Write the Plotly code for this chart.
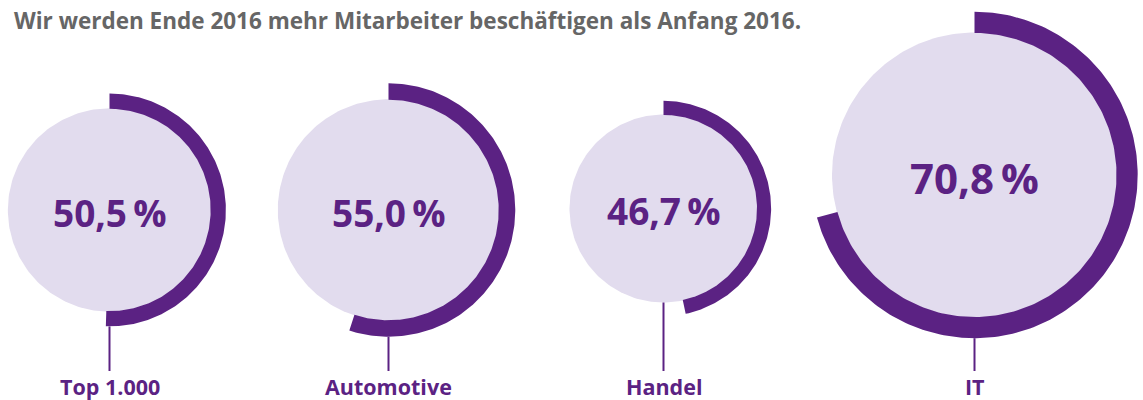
import numpy as np
import plotly.graph_objects as go

# ---- data ----
categories = ["Top 1.000", "Automotive", "Handel", "IT"]
values = [50.5, 55.0, 46.7, 70.8]
title_text = "Wir werden Ende 2016 mehr Mitarbeiter beschäftigen als Anfang 2016."

# ---- layout constants (pixel space) ----
W, H = 1143, 400
center_x = [109.5, 388.5, 663.5, 974.5]
center_y = [210, 210, 208.5, 175]
px_per_pct = 2.013
ring_factor = 1.145
value_font = [37, 37, 37, 42]
label_y = 386.5
line_end_y = 371

DARK = "#5B2283"
LIGHT = "#E2DCEE"
GRAY = "#666666"
FONT = "Open Sans"

fig = go.Figure()

for cat, v, cx, cy, fs in zip(categories, values, center_x, center_y, value_font):
    r = v * px_per_pct
    ro = r * ring_factor
    # disc
    t = np.linspace(0, 2 * np.pi, 241)
    fig.add_trace(go.Scatter(
        x=cx + r * np.sin(t), y=cy - r * np.cos(t),
        mode="lines", fill="toself", fillcolor=LIGHT,
        line=dict(width=0, color=LIGHT), hoverinfo="skip", showlegend=False))
    # arc (ring sector) from 12 o'clock clockwise
    a = np.linspace(0, 2 * np.pi * v / 100.0, 200)
    xs = np.concatenate([cx + ro * np.sin(a), cx + (r - 0.5) * np.sin(a[::-1])])
    ys = np.concatenate([cy - ro * np.cos(a), cy - (r - 0.5) * np.cos(a[::-1])])
    fig.add_trace(go.Scatter(
        x=np.append(xs, xs[0]), y=np.append(ys, ys[0]),
        mode="lines", fill="toself", fillcolor=DARK,
        line=dict(width=0, color=DARK), hoverinfo="skip", showlegend=False))
    # connector line
    y0 = cy + (ro if v >= 50 else r)
    fig.add_trace(go.Scatter(
        x=[cx, cx], y=[y0, line_end_y], mode="lines",
        line=dict(width=2, color=DARK), hoverinfo="skip", showlegend=False))
    # value text
    txt = f"{v:.1f}".replace(".", ",") + "\u2009%"
    fig.add_annotation(x=cx, y=cy + 2, text=f"<b>{txt}</b>", showarrow=False,
                       font=dict(family=FONT, size=fs, color=DARK),
                       xanchor="center", yanchor="middle")
    # category label
    fig.add_annotation(x=cx, y=label_y, text=f"<b>{cat}</b>", showarrow=False,
                       font=dict(family=FONT, size=21.5, color=DARK),
                       xanchor="center", yanchor="middle")

fig.add_annotation(x=12, y=20, text=f"<b>{title_text}</b>", showarrow=False,
                   font=dict(family=FONT, size=22.5, color=GRAY),
                   xanchor="left", yanchor="middle")

fig.update_xaxes(range=[0, W], visible=False, fixedrange=True)
fig.update_yaxes(range=[H, 0], visible=False, fixedrange=True)
fig.update_layout(width=W, height=H, margin=dict(l=0, r=0, t=0, b=0),
                  plot_bgcolor="white", paper_bgcolor="white", showlegend=False)

fig.write_html("out.html", config={"displayModeBar": False},
               post_script="document.body.style.margin='0px';document.body.style.overflow='hidden';")
